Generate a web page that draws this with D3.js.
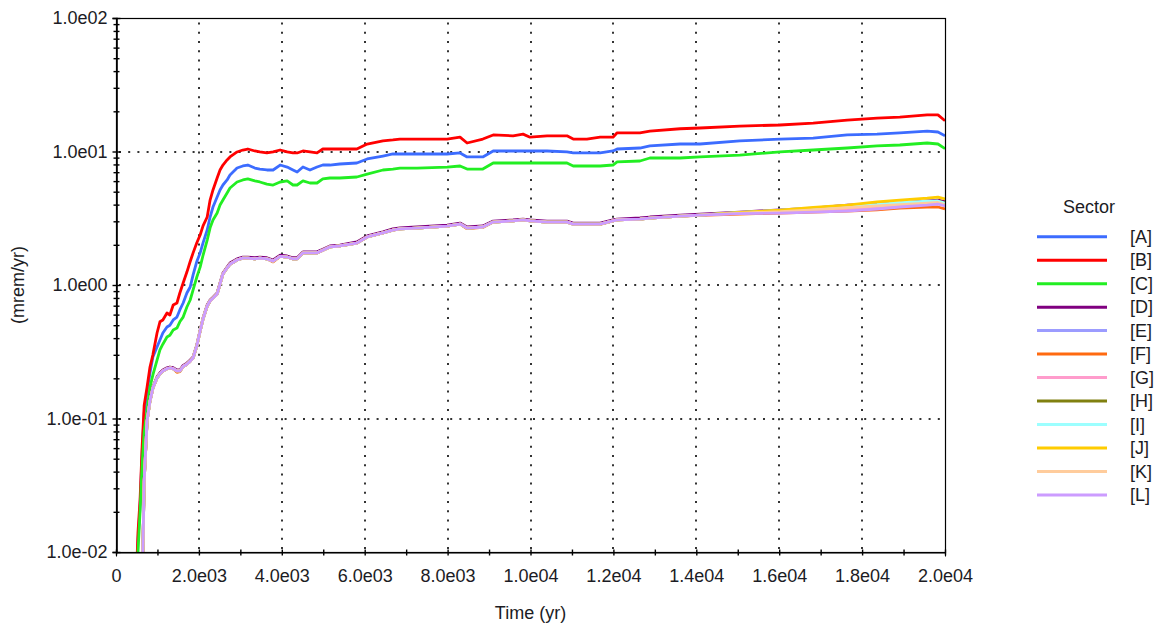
<!DOCTYPE html>
<html><head><meta charset="utf-8">
<script src="https://cdn.jsdelivr.net/npm/d3@7"></script>
<style>
html,body{margin:0;padding:0;background:#fff;}
svg{display:block;font-family:"Liberation Sans",Arial,sans-serif;}
</style></head><body>
<svg id="chart" width="1157" height="630"></svg>
<script>
// ---- data ----
const years = [480, 530, 580, 630, 680, 750, 820, 890, 990, 1060,
  1130, 1230, 1300, 1380, 1470, 1540, 1620, 1710, 1790, 1860,
  1950, 2030, 2100, 2200, 2270, 2340, 2440, 2510, 2580, 2680,
  2750, 2920, 3060, 3180, 3350, 3470, 3640, 3790, 3960, 4130,
  4270, 4370, 4510, 4680, 4850, 4990, 5160, 5400, 5810, 6060,
  6440, 6680, 6850, 7260, 7990, 8300, 8470, 8850, 9100, 9580,
  9820, 9990, 10400, 10880, 11030, 11360, 11680, 11990, 12090, 12640,
  12880, 13610, 14090, 15050, 16020, 16820, 17640, 18360, 18910, 19570,
  19830, 20000];

const valuesA = [0.004, 0.012, 0.022, 0.055, 0.11, 0.16, 0.22, 0.289, 0.343, 0.387,
  0.437, 0.485, 0.50, 0.547, 0.575, 0.65, 0.733, 0.871, 0.966, 1.19,
  1.5, 1.74, 2.07, 2.58, 3.23, 3.84, 4.56, 5.15, 5.61, 6.12,
  6.67, 7.52, 7.79, 7.92, 7.52, 7.39, 7.27, 7.27, 7.92, 7.65,
  7.27, 7.02, 7.65, 7.27, 7.65, 7.92, 7.92, 8.06, 8.20, 8.79,
  9.25, 9.58, 9.58, 9.58, 9.58, 9.75, 9.10, 9.10, 10.09, 10.09,
  10.09, 10.09, 10.09, 9.92, 9.75, 9.75, 9.75, 10.09, 10.44, 10.62,
  11.0, 11.38, 11.38, 12.0, 12.4, 12.6, 13.3, 13.5, 13.8, 14.2,
  14.0, 13.1];

const valuesB = [0.005, 0.014, 0.0245, 0.061, 0.126, 0.172, 0.243, 0.30, 0.437, 0.53,
  0.547, 0.617, 0.596, 0.708, 0.733, 0.871, 1.035, 1.25, 1.5, 1.74,
  2.07, 2.37, 2.77, 3.23, 4.33, 5.15, 6.33, 7.27, 7.92, 8.64,
  9.10, 9.92, 10.26, 10.44, 10.09, 9.92, 9.75, 9.92, 10.26, 9.92,
  9.75, 9.75, 10.09, 9.92, 9.75, 10.44, 10.44, 10.44, 10.44, 11.38,
  12.0, 12.2, 12.4, 12.4, 12.4, 12.8, 11.58, 12.4, 13.3, 13.1,
  13.5, 12.8, 13.1, 13.1, 12.4, 12.4, 12.8, 12.8, 13.8, 13.8,
  14.2, 14.8, 15.0, 15.5, 15.8, 16.3, 17.2, 17.8, 18.1, 18.8,
  18.8, 17.0];

const valuesC = [0.003, 0.01, 0.02, 0.045, 0.08, 0.116, 0.172, 0.212, 0.274, 0.326,
  0.36, 0.408, 0.42, 0.46, 0.476, 0.53, 0.575, 0.684, 0.772, 0.92,
  1.148, 1.36, 1.67, 2.17, 2.68, 3.07, 3.46, 3.97, 4.33, 4.89,
  5.33, 5.91, 6.12, 6.23, 6.02, 5.91, 5.7, 5.61, 5.91, 6.02,
  5.61, 5.61, 6.02, 5.81, 5.81, 6.23, 6.33, 6.33, 6.44, 6.78,
  7.27, 7.39, 7.52, 7.52, 7.65, 7.79, 7.39, 7.39, 8.20, 8.20,
  8.20, 8.20, 8.20, 8.20, 7.79, 7.79, 7.79, 7.92, 8.35, 8.49,
  8.94, 8.94, 9.10, 9.4, 9.92, 10.26, 10.62, 11.0, 11.19, 11.58,
  11.38, 10.5];

const valuesD = [0.001, 0.0015, 0.002, 0.005, 0.035, 0.0975, 0.138, 0.172, 0.205, 0.22,
  0.231, 0.24, 0.243, 0.24, 0.231, 0.231, 0.25, 0.26, 0.274, 0.289,
  0.356, 0.46, 0.566, 0.708, 0.772, 0.81, 0.871, 1.035, 1.23, 1.36,
  1.46, 1.57, 1.62, 1.62, 1.6, 1.62, 1.6, 1.54, 1.67, 1.65,
  1.6, 1.6, 1.77, 1.77, 1.77, 1.85, 1.96, 1.99, 2.10, 2.33,
  2.50, 2.63, 2.68, 2.72, 2.81, 2.91, 2.72, 2.77, 3.01, 3.07,
  3.12, 3.07, 3.01, 3.01, 2.91, 2.91, 2.91, 3.07, 3.12, 3.18,
  3.23, 3.34, 3.40, 3.52, 3.65, 3.77, 3.97, 4.04, 4.11, 4.26,
  4.33, 4.2];

const valuesE = [0.001, 0.0015, 0.002, 0.005, 0.034, 0.096, 0.135, 0.169, 0.201, 0.216,
  0.227, 0.236, 0.239, 0.236, 0.227, 0.227, 0.245, 0.255, 0.269, 0.284,
  0.35, 0.452, 0.556, 0.696, 0.759, 0.796, 0.856, 1.017, 1.21, 1.34,
  1.43, 1.54, 1.59, 1.59, 1.57, 1.59, 1.57, 1.51, 1.64, 1.62,
  1.57, 1.57, 1.74, 1.74, 1.74, 1.82, 1.93, 1.96, 2.06, 2.29,
  2.46, 2.58, 2.63, 2.67, 2.76, 2.86, 2.67, 2.72, 2.96, 3.02,
  3.07, 3.02, 2.96, 2.96, 2.86, 2.86, 2.86, 3.02, 3.07, 3.12,
  3.17, 3.28, 3.34, 3.48, 3.58, 3.70, 3.86, 3.95, 4.02, 4.13,
  4.18, 4.08];

const valuesF = [0.001, 0.0015, 0.002, 0.005, 0.034, 0.096, 0.135, 0.169, 0.201, 0.216,
  0.227, 0.236, 0.239, 0.236, 0.222, 0.224, 0.245, 0.255, 0.269, 0.284,
  0.35, 0.452, 0.556, 0.696, 0.759, 0.796, 0.856, 1.017, 1.21, 1.34,
  1.43, 1.54, 1.59, 1.59, 1.57, 1.59, 1.57, 1.49, 1.64, 1.62,
  1.57, 1.57, 1.74, 1.74, 1.74, 1.82, 1.93, 1.96, 2.06, 2.29,
  2.46, 2.58, 2.63, 2.67, 2.76, 2.86, 2.64, 2.70, 2.96, 3.02,
  3.07, 3.02, 2.96, 2.96, 2.86, 2.83, 2.84, 3.02, 3.07, 3.12,
  3.17, 3.28, 3.32, 3.40, 3.46, 3.52, 3.58, 3.65, 3.77, 3.84,
  3.84, 3.71];

const valuesG = [0.001, 0.0015, 0.002, 0.005, 0.034, 0.096, 0.135, 0.169, 0.201, 0.216,
  0.227, 0.236, 0.239, 0.236, 0.227, 0.227, 0.245, 0.255, 0.269, 0.284,
  0.35, 0.452, 0.556, 0.696, 0.759, 0.796, 0.856, 1.017, 1.21, 1.34,
  1.43, 1.54, 1.59, 1.59, 1.57, 1.59, 1.57, 1.51, 1.64, 1.62,
  1.57, 1.57, 1.74, 1.74, 1.74, 1.82, 1.93, 1.96, 2.06, 2.29,
  2.46, 2.58, 2.63, 2.67, 2.76, 2.86, 2.67, 2.72, 2.96, 3.02,
  3.07, 3.02, 2.96, 2.96, 2.86, 2.86, 2.86, 3.02, 3.07, 3.12,
  3.17, 3.28, 3.34, 3.46, 3.50, 3.60, 3.70, 3.82, 3.91, 4.02,
  4.08, 3.95];

const valuesH = [0.001, 0.0015, 0.002, 0.005, 0.034, 0.096, 0.135, 0.169, 0.201, 0.216,
  0.227, 0.236, 0.239, 0.236, 0.227, 0.227, 0.245, 0.255, 0.269, 0.284,
  0.35, 0.452, 0.556, 0.696, 0.759, 0.796, 0.856, 1.017, 1.21, 1.34,
  1.43, 1.54, 1.59, 1.59, 1.57, 1.59, 1.57, 1.51, 1.64, 1.62,
  1.57, 1.57, 1.74, 1.74, 1.74, 1.82, 1.93, 1.96, 2.06, 2.29,
  2.46, 2.58, 2.63, 2.67, 2.76, 2.86, 2.67, 2.72, 2.96, 3.02,
  3.07, 3.02, 2.96, 2.96, 2.86, 2.86, 2.86, 3.02, 3.07, 3.12,
  3.17, 3.28, 3.34, 3.48, 3.60, 3.72, 3.90, 3.98, 4.06, 4.18,
  4.24, 4.13];

const valuesI = [0.001, 0.0015, 0.002, 0.005, 0.034, 0.096, 0.135, 0.169, 0.201, 0.216,
  0.227, 0.236, 0.239, 0.236, 0.227, 0.227, 0.245, 0.255, 0.269, 0.284,
  0.35, 0.452, 0.556, 0.696, 0.759, 0.796, 0.856, 1.017, 1.21, 1.34,
  1.43, 1.54, 1.59, 1.59, 1.57, 1.59, 1.57, 1.51, 1.64, 1.62,
  1.57, 1.57, 1.74, 1.74, 1.74, 1.82, 1.93, 1.96, 2.06, 2.29,
  2.46, 2.58, 2.63, 2.67, 2.76, 2.86, 2.67, 2.72, 2.96, 3.02,
  3.07, 3.02, 2.96, 2.96, 2.86, 2.86, 2.86, 3.02, 3.07, 3.12,
  3.17, 3.28, 3.34, 3.50, 3.63, 3.78, 3.93, 4.02, 4.13, 4.24,
  4.26, 4.1];

const valuesJ = [0.001, 0.0015, 0.002, 0.005, 0.034, 0.096, 0.135, 0.169, 0.201, 0.216,
  0.227, 0.236, 0.239, 0.236, 0.227, 0.227, 0.245, 0.255, 0.269, 0.284,
  0.35, 0.452, 0.556, 0.696, 0.759, 0.796, 0.856, 1.017, 1.21, 1.34,
  1.43, 1.54, 1.59, 1.59, 1.57, 1.59, 1.57, 1.51, 1.64, 1.62,
  1.57, 1.57, 1.74, 1.74, 1.74, 1.82, 1.93, 1.96, 2.06, 2.29,
  2.46, 2.58, 2.63, 2.67, 2.76, 2.86, 2.67, 2.72, 2.96, 3.02,
  3.07, 3.02, 2.96, 2.96, 2.86, 2.86, 2.86, 3.02, 3.07, 3.12,
  3.17, 3.28, 3.34, 3.50, 3.63, 3.82, 3.97, 4.19, 4.33, 4.48,
  4.56, 4.41];

const valuesK = [0.001, 0.0015, 0.002, 0.005, 0.034, 0.096, 0.135, 0.169, 0.201, 0.216,
  0.227, 0.236, 0.239, 0.236, 0.227, 0.227, 0.245, 0.255, 0.269, 0.284,
  0.35, 0.452, 0.556, 0.696, 0.759, 0.796, 0.856, 1.017, 1.21, 1.34,
  1.43, 1.54, 1.59, 1.59, 1.57, 1.59, 1.57, 1.51, 1.64, 1.62,
  1.57, 1.57, 1.74, 1.74, 1.74, 1.82, 1.93, 1.96, 2.06, 2.29,
  2.46, 2.58, 2.63, 2.67, 2.76, 2.86, 2.67, 2.72, 2.96, 3.02,
  3.07, 3.02, 2.96, 2.96, 2.86, 2.86, 2.86, 3.02, 3.07, 3.12,
  3.17, 3.28, 3.34, 3.46, 3.54, 3.66, 3.80, 3.92, 4.00, 4.11,
  4.15, 4.0];

const valuesL = [0.001, 0.0015, 0.002, 0.005, 0.034, 0.096, 0.135, 0.169, 0.201, 0.216,
  0.227, 0.236, 0.239, 0.236, 0.227, 0.227, 0.245, 0.255, 0.269, 0.284,
  0.35, 0.452, 0.556, 0.696, 0.759, 0.796, 0.856, 1.017, 1.21, 1.34,
  1.43, 1.54, 1.59, 1.59, 1.57, 1.59, 1.57, 1.51, 1.64, 1.62,
  1.57, 1.57, 1.74, 1.74, 1.74, 1.82, 1.93, 1.96, 2.06, 2.29,
  2.46, 2.58, 2.63, 2.67, 2.76, 2.86, 2.67, 2.72, 2.96, 3.02,
  3.07, 3.02, 2.96, 2.96, 2.86, 2.86, 2.86, 3.02, 3.07, 3.12,
  3.17, 3.28, 3.34, 3.42, 3.46, 3.52, 3.58, 3.71, 3.84, 3.97,
  4.04, 3.91];

const sectorNames = ["[A]", "[B]", "[C]", "[D]", "[E]", "[F]", "[G]", "[H]", "[I]", "[J]", "[K]", "[L]"];
const sectorColors = ["#3c6cff", "#ff0000", "#22ee22", "#800080", "#9c9cff", "#ff6a10",
  "#ff9ccc", "#808010", "#9cffff", "#ffcc00", "#ffcc9c", "#cc9cff"];
const sectorValues = [valuesA, valuesB, valuesC, valuesD, valuesE, valuesF,
  valuesG, valuesH, valuesI, valuesJ, valuesK, valuesL];

const xTickValues = [0, 2000, 4000, 6000, 8000, 10000, 12000, 14000, 16000, 18000, 20000];
const xTickLabels = ["0", "2.0e03", "4.0e03", "6.0e03", "8.0e03", "1.0e04", "1.2e04", "1.4e04", "1.6e04", "1.8e04", "2.0e04"];
const xMinorTickValues = [0, 1000, 2000, 3000, 4000, 5000, 6000, 7000, 8000, 9000, 10000,
  11000, 12000, 13000, 14000, 15000, 16000, 17000, 18000, 19000, 20000];
const yTickValues = [0.01, 0.1, 1, 10, 100];
const yTickLabels = ["1.0e-02", "1.0e-01", "1.0e00", "1.0e01", "1.0e02"];
const xTitle = "Time (yr)";
const yTitle = "(mrem/yr)";
const legendTitle = "Sector";

// ---- layout ----
const plot = {left: 116, right: 945, top: 18, bottom: 552};
const textColor = "#1c1c24";
const fontSize = 18;

const svg = d3.select("#chart");

const x = d3.scaleLinear().domain([0, 20000]).range([plot.left, plot.right]);
const y = d3.scaleLog().domain([0.01, 100]).range([plot.bottom, plot.top]);

// grid
const grid = svg.append("g").attr("stroke", "#333").attr("stroke-width", 2)
  .attr("stroke-dasharray", "2,7.2");
grid.selectAll("line.gx").data(xTickValues.filter(v => v > 0 && v < 20000)).join("line")
  .attr("x1", d => Math.round(x(d))).attr("x2", d => Math.round(x(d)))
  .attr("y1", plot.bottom - 3).attr("y2", plot.top);
grid.selectAll("line.gy").data(yTickValues.filter(v => v > 0.01 && v < 100)).join("line")
  .attr("y1", d => Math.round(y(d))).attr("y2", d => Math.round(y(d)))
  .attr("x1", plot.left + 3).attr("x2", plot.right);

// clip
svg.append("defs").append("clipPath").attr("id", "plotclip")
  .append("rect").attr("x", plot.left).attr("y", plot.top)
  .attr("width", plot.right - plot.left).attr("height", plot.bottom - plot.top);

const line = d3.line()
  .x((d, i) => x(years[i]))
  .y(d => y(Math.max(d, 1e-4)));

const lines = svg.append("g").attr("clip-path", "url(#plotclip)");
sectorValues.forEach((vals, k) => {
  lines.append("path")
    .attr("d", line(vals))
    .attr("fill", "none")
    .attr("stroke", sectorColors[k])
    .attr("stroke-width", 2.8)
    .attr("stroke-linejoin", "round");
});

// frame
svg.append("rect").attr("x", plot.left + 0.5).attr("y", plot.top + 0.5)
  .attr("width", plot.right - plot.left).attr("height", plot.bottom - plot.top)
  .attr("fill", "none").attr("stroke", "#000").attr("stroke-width", 1.2);

// x axis
const xAxis = d3.axisBottom(x).tickValues(xMinorTickValues)
  .tickFormat(d => { const i = xTickValues.indexOf(d); return i >= 0 ? xTickLabels[i] : ""; })
  .tickSize(4).tickPadding(13);
const gx = svg.append("g").attr("transform", `translate(0,${plot.bottom + 0.5})`).call(xAxis);
gx.select(".domain").attr("stroke", "#000");
gx.selectAll(".tick line").attr("y1", -3).attr("y2", 3).attr("stroke", "#000").attr("stroke-width", 1.4);
gx.selectAll(".tick text").attr("font-size", fontSize).attr("font-family", "Liberation Sans, Arial, sans-serif")
  .attr("fill", textColor);

// y axis: minor ticks
const yMinor = [];
[0.01, 0.1, 1, 10].forEach(dec => { for (let m = 2; m <= 9; m++) yMinor.push(dec * m); });
const yAxisMinor = d3.axisLeft(y).tickValues(yMinor).tickFormat("").tickSize(3);
const gyMinor = svg.append("g").attr("transform", `translate(${plot.left + 0.5},0)`).call(yAxisMinor);
gyMinor.select(".domain").remove();
gyMinor.selectAll(".tick line").attr("x1", -3).attr("x2", 3).attr("stroke", "#000").attr("stroke-width", 1.4);

const yAxis = d3.axisLeft(y).tickValues(yTickValues)
  .tickFormat(d => yTickLabels[yTickValues.indexOf(d)]).tickSize(4).tickPadding(5);
const gy = svg.append("g").attr("transform", `translate(${plot.left + 0.5},0)`).call(yAxis);
gy.select(".domain").attr("stroke", "#000").attr("stroke-width", 1.6);
gy.selectAll(".tick line").attr("x1", -4).attr("x2", 4).attr("stroke", "#000").attr("stroke-width", 1.4);
gy.selectAll(".tick text").attr("font-size", fontSize).attr("font-family", "Liberation Sans, Arial, sans-serif")
  .attr("fill", textColor);

// axis titles
svg.append("text").attr("x", (plot.left + plot.right) / 2).attr("y", 619)
  .attr("text-anchor", "middle").attr("font-size", fontSize).attr("fill", textColor).text(xTitle);
svg.append("text").attr("transform", `translate(24,${(plot.top + plot.bottom) / 2}) rotate(-90)`)
  .attr("text-anchor", "middle").attr("font-size", fontSize).attr("fill", textColor).text(yTitle);

// legend
const legend = svg.append("g");
legend.append("text").attr("x", 1089).attr("y", 213).attr("text-anchor", "middle")
  .attr("font-size", fontSize).attr("fill", textColor).text(legendTitle);
const rows = legend.selectAll("g.row").data(sectorNames).join("g")
  .attr("transform", (d, i) => `translate(0,${236.7 + i * 23.48})`);
rows.append("line").attr("x1", 1037).attr("x2", 1107).attr("y1", 0).attr("y2", 0)
  .attr("stroke", (d, i) => sectorColors[i]).attr("stroke-width", 3);
rows.append("text").attr("x", 1130).attr("y", 6).attr("font-size", fontSize)
  .attr("fill", textColor).text(d => d);
</script>
</body></html>
